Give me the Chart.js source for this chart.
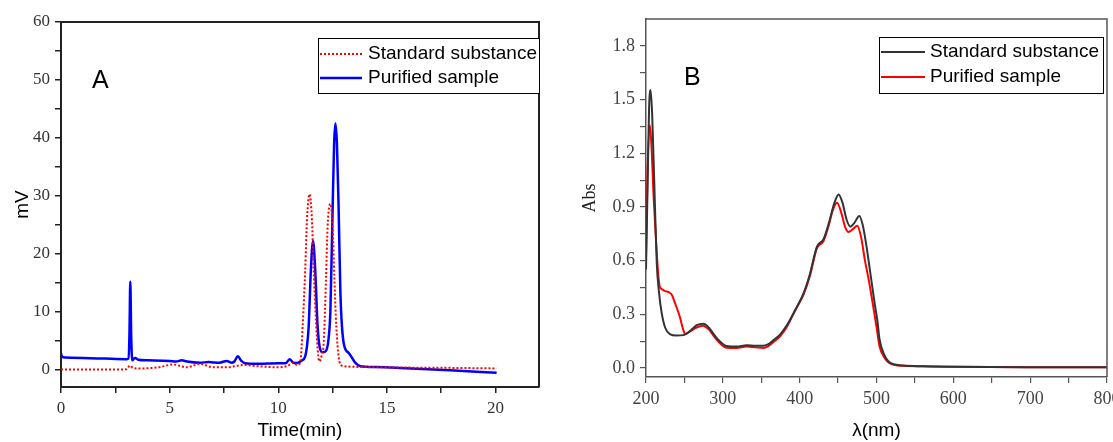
<!DOCTYPE html>
<html><head><meta charset="utf-8">
<script src="https://cdn.jsdelivr.net/npm/chart.js@4.4.1/dist/chart.umd.min.js"></script>
<style>
html,body{margin:0;padding:0;background:#fff;overflow:hidden}
#wrap{position:relative;width:1113px;height:442px;background:#fff}
canvas{position:absolute;top:0}
#cA{left:0}
#cB{left:556px}
</style></head><body>
<div id="wrap"><canvas id="cA" width="556" height="442"></canvas><canvas id="cB" width="557" height="442"></canvas></div>
<script>
// ---------- Panel A : HPLC chromatogram (mV vs min) ----------
const seriesNames = ['Standard substance', 'Purified sample'];

const hplcTimeStd = [0, 1, 2, 3.0, 3.18, 3.3, 3.6, 4.5, 5.18, 5.5, 5.8, 6.4, 7.0, 7.6, 8.4, 9.0, 10.0, 10.4, 10.7, 10.85,
  11.01, 11.13, 11.24, 11.32, 11.44, 11.55, 11.63, 11.74, 11.84, 11.9, 12.0, 12.09, 12.2, 12.27, 12.4, 12.5, 12.58, 12.67,
  12.83, 13.0, 14, 16, 18, 20.05];
const hplcStd = [0, 0, 0, 0.05, 0.7, 0.3, 0.2, 0.4, 0.9, 0.6, 0.4, 1.0, 0.4, 0.4, 0.8, 0.6, 0.4, 0.6, 1.2, 0.8,
  1.15, 8.1, 17.2, 25.8, 30.3, 25.8, 17.2, 8.1, 2.3, 1.4, 2.5, 4.6, 16, 24.7, 28.6, 24.7, 16, 7.5,
  1.15, 0.6, 0.45, 0.35, 0.3, 0.2];

const hplcTimePur = [0, 0.05, 0.2, 1, 2, 3.0, 3.1, 3.15, 3.19, 3.23, 3.28, 3.33, 3.42, 3.55, 4.0, 5.0, 5.3, 5.56, 5.8,
  6.4, 6.8, 7.0, 7.3, 7.63, 7.86, 7.98, 8.14, 8.3, 8.48, 9.0, 10.0, 10.35, 10.52, 10.7, 10.86, 11.05, 11.24, 11.32, 11.4,
  11.5, 11.6, 11.7, 11.81, 11.9, 12.04, 12.15, 12.24, 12.32, 12.4, 12.5, 12.57, 12.63, 12.7, 12.78, 12.86, 13.01, 13.24,
  13.55, 13.78, 14.5, 15.6, 17.9, 20.05];
const hplcPur = [2.8, 2.2, 2.1, 2.0, 1.9, 1.8, 1.9, 6, 15.2, 6, 1.6, 1.8, 2.0, 1.7, 1.6, 1.5, 1.4, 1.6, 1.4,
  1.2, 1.3, 1.25, 1.2, 1.5, 1.2, 1.4, 2.3, 1.5, 1.1, 1.0, 1.1, 1.1, 1.8, 1.2, 1.15, 1.5, 2.3, 4.0, 7.5,
  17.2, 22.2, 17.2, 7.5, 4.0, 3.0, 3.1, 3.6, 5.5, 10.3, 27.5, 39, 42.5, 39, 27.5, 13.2, 4.6, 2.9,
  1.15, 0.6, 0.45, 0.3, -0.1, -0.55];

const ticksAx = [0, 2.5, 5, 7.5, 10, 12.5, 15, 17.5, 20];
const labelsAx = ['0', '', '5', '', '10', '', '15', '', '20'];
const ticksAy = [0, 5, 10, 15, 20, 25, 30, 35, 40, 45, 50, 55, 60];
const labelsAy = ['0', '', '10', '', '20', '', '30', '', '40', '', '50', '', '60'];

// ---------- Panel B : UV-Vis spectrum (Abs vs nm) ----------
const uvWaveStd = [200, 202, 204, 206, 208, 211, 214, 217, 220.5, 225, 231, 240, 249, 258, 266, 275, 282, 288, 296, 305,
  318, 331, 342, 353, 360, 366, 375, 383.5, 395, 405, 413, 422.5, 431, 438, 445, 450.7, 456, 461, 466, 471, 477.7, 482,
  487, 492, 498, 501, 504, 510, 516, 524, 535, 560, 600, 700, 800];
const uvStd = [0.55, 1.0, 1.45, 1.553, 1.42, 1.0, 0.585, 0.42, 0.305, 0.225, 0.19, 0.182, 0.184, 0.21, 0.24, 0.248, 0.225,
  0.19, 0.15, 0.123, 0.12, 0.128, 0.124, 0.125, 0.135, 0.156, 0.19, 0.24, 0.33, 0.417, 0.52, 0.678, 0.72, 0.81, 0.92,
  0.97, 0.92, 0.83, 0.79, 0.81, 0.85, 0.8, 0.68, 0.53, 0.35, 0.27, 0.16, 0.075, 0.035, 0.02, 0.014, 0.01, 0.007, 0.005, 0.005];

const uvWavePur = [200, 202, 205, 207, 210, 213, 216, 218, 221, 224.8, 229, 233.5, 238, 244, 248, 251, 257, 265, 274, 282,
  288, 296, 305, 318, 331, 342, 353, 360, 366, 375, 384, 395, 405, 413, 422.5, 431, 438, 443, 448.6, 454, 459, 463.6, 469,
  475, 480, 485, 490, 497, 500, 504, 510, 516, 524, 535, 560, 600, 700, 800];
const uvPur = [0.62, 1.1, 1.357, 1.25, 0.95, 0.715, 0.52, 0.454, 0.44, 0.43, 0.425, 0.41, 0.36, 0.287, 0.22, 0.19, 0.203,
  0.225, 0.237, 0.215, 0.18, 0.14, 0.113, 0.112, 0.12, 0.116, 0.112, 0.125, 0.145, 0.18, 0.235, 0.33, 0.41, 0.51, 0.67,
  0.71, 0.8, 0.88, 0.923, 0.87, 0.79, 0.76, 0.775, 0.795, 0.73, 0.6, 0.49, 0.31, 0.23, 0.12, 0.06, 0.03, 0.017, 0.013,
  0.01, 0.007, 0.005, 0.005];

const ticksBx = [200, 250, 300, 350, 400, 450, 500, 550, 600, 650, 700, 750, 800];
const labelsBx = ['200', '', '300', '', '400', '', '500', '', '600', '', '700', '', '800'];
const ticksBy = [0, 0.15, 0.3, 0.45, 0.6, 0.75, 0.9, 1.05, 1.2, 1.35, 1.5, 1.65, 1.8];
const labelsBy = ['0.0', '', '0.3', '', '0.6', '', '0.9', '', '1.2', '', '1.5', '', '1.8'];

// ---------- helpers ----------
const pts = (xs, ys) => xs.map((x, i) => ({x: x, y: ys[i]}));

const framePlugin = {
  id: 'frame',
  afterDatasetsDraw(chart, args, o) {
    const {ctx, chartArea: a} = chart;
    ctx.save();
    ctx.strokeStyle = o.color; ctx.lineWidth = o.width;
    ctx.beginPath();
    ctx.moveTo(a.left, a.top); ctx.lineTo(a.right, a.top); ctx.lineTo(a.right, a.bottom);
    ctx.stroke();
    ctx.restore();
  }
};

const boxLegend = {
  id: 'boxLegend',
  afterDraw(chart, args, o) {
    const ctx = chart.ctx;
    ctx.save();
    ctx.fillStyle = '#fff';
    ctx.fillRect(o.x, o.y, o.w, o.h);
    ctx.strokeStyle = '#000'; ctx.lineWidth = 1;
    ctx.strokeRect(o.x + 0.5, o.y + 0.5, o.w, o.h);
    chart.data.datasets.forEach((ds, i) => {
      const y = o.y + o.rows[i];
      ctx.strokeStyle = ds.borderColor; ctx.lineWidth = ds.borderWidth;
      ctx.setLineDash(ds.borderDash || []);
      ctx.beginPath(); ctx.moveTo(o.x + o.l0, y); ctx.lineTo(o.x + o.l1, y); ctx.stroke();
      ctx.setLineDash([]);
      ctx.fillStyle = '#000'; ctx.font = o.font; ctx.textBaseline = 'middle'; ctx.textAlign = 'left';
      ctx.fillText(ds.label, o.x + o.tx, y);
    });
    if (o.letter) {
      ctx.font = o.letterFont; ctx.textBaseline = 'alphabetic'; ctx.fillStyle = '#000';
      ctx.fillText(o.letter, o.lx, o.ly);
    }
    ctx.restore();
  }
};

function fixScale(w, h) {
  return function (s) {
    if (w !== null) s.width = w;
    if (h !== null) s.height = h;
    s.paddingLeft = 0; s.paddingRight = 0; s.paddingTop = 0; s.paddingBottom = 0;
  };
}
function setTicks(vals) { return function (s) { s.ticks = vals.map(v => ({value: v})); }; }
function labelFrom(vals, labels) {
  return function (v) { const i = vals.findIndex(t => Math.abs(t - v) < 1e-6); return i >= 0 ? labels[i] : ''; };
}

const serif = '"Liberation Serif", "DejaVu Serif", serif';
const sans = '"Liberation Sans", Arial, sans-serif';

// ---------- Chart A ----------
new Chart(document.getElementById('cA'), {
  type: 'line',
  data: {
    datasets: [
      {label: seriesNames[0], data: pts(hplcTimeStd, hplcStd), borderColor: '#ff0000', borderWidth: 2,
        borderDash: [2, 2], pointRadius: 0, cubicInterpolationMode: 'monotone', fill: false},
      {label: seriesNames[1], data: pts(hplcTimePur, hplcPur), borderColor: '#0000ff', borderWidth: 2.5,
        pointRadius: 0, cubicInterpolationMode: 'monotone', fill: false}
    ]
  },
  options: {
    responsive: false, animation: false, devicePixelRatio: 1,
    layout: {padding: {left: 0, right: 17, top: 22, bottom: 0}},
    scales: {
      x: {
        type: 'linear', min: 0, max: 22,
        afterFit: fixScale(null, 55), afterBuildTicks: setTicks(ticksAx),
        grid: {drawOnChartArea: false, drawTicks: true, tickLength: 6, color: '#222', lineWidth: 1.5},
        border: {display: true, color: '#222', width: 2},
        ticks: {callback: labelFrom(ticksAx, labelsAx), color: '#333', padding: 5, maxRotation: 0, autoSkip: false,
          font: {family: serif, size: 17}},
        title: {display: true, text: 'Time(min)', color: '#000', padding: {top: 0, bottom: 0},
          font: {family: sans, size: 19}}
      },
      y: {
        type: 'linear', min: -3, max: 60,
        afterFit: fixScale(61, null), afterBuildTicks: setTicks(ticksAy),
        grid: {drawOnChartArea: false, drawTicks: true, tickLength: 6, color: '#222', lineWidth: 1.5},
        border: {display: true, color: '#222', width: 2},
        ticks: {callback: labelFrom(ticksAy, labelsAy), color: '#333', padding: 5, autoSkip: false,
          font: {family: serif, size: 17}},
        title: {display: true, text: 'mV', color: '#000', padding: {top: 11, bottom: 0},
          font: {family: sans, size: 19}}
      }
    },
    plugins: {
      legend: {display: false}, tooltip: {enabled: false},
      frame: {color: '#222', width: 2},
      boxLegend: {x: 318, y: 38, w: 221, h: 55, rows: [16, 40], l0: 2, l1: 44, tx: 50,
        font: '19px ' + sans, letter: 'A', letterFont: '25px ' + sans, lx: 92, ly: 88}
    }
  },
  plugins: [framePlugin, boxLegend]
});

// ---------- Chart B ----------
new Chart(document.getElementById('cB'), {
  type: 'line',
  data: {
    datasets: [
      {label: seriesNames[0], data: pts(uvWaveStd, uvStd), borderColor: '#333333', borderWidth: 2,
        pointRadius: 0, cubicInterpolationMode: 'monotone', fill: false},
      {label: seriesNames[1], data: pts(uvWavePur, uvPur), borderColor: '#ff0000', borderWidth: 2,
        pointRadius: 0, cubicInterpolationMode: 'monotone', fill: false}
    ]
  },
  options: {
    responsive: false, animation: false, devicePixelRatio: 1,
    layout: {padding: {left: 0, right: 6, top: 19, bottom: 0}},
    scales: {
      x: {
        type: 'linear', min: 200, max: 800,
        afterFit: fixScale(null, 65), afterBuildTicks: setTicks(ticksBx),
        grid: {drawOnChartArea: false, drawTicks: true, tickLength: 6, color: '#555', lineWidth: 1.2},
        border: {display: true, color: '#555', width: 1.5},
        ticks: {callback: labelFrom(ticksBx, labelsBx), color: '#444', padding: 5, maxRotation: 0, autoSkip: false,
          font: {family: serif, size: 18}},
        title: {display: true, text: 'λ(nm)', color: '#000', padding: {top: 0, bottom: 0},
          font: {family: sans, size: 19}}
      },
      y: {
        type: 'linear', min: -0.05, max: 1.95,
        afterFit: fixScale(90, null), afterBuildTicks: setTicks(ticksBy),
        grid: {drawOnChartArea: false, drawTicks: true, tickLength: 6, color: '#555', lineWidth: 1.2},
        border: {display: true, color: '#555', width: 1.5},
        ticks: {callback: labelFrom(ticksBy, labelsBy), color: '#444', padding: 5, autoSkip: false,
          font: {family: serif, size: 18}},
        title: {display: true, text: 'Abs', color: '#222', padding: {top: 23, bottom: 0},
          font: {family: serif, size: 18}}
      }
    },
    plugins: {
      legend: {display: false}, tooltip: {enabled: false},
      frame: {color: '#555', width: 1.5},
      boxLegend: {x: 323, y: 37, w: 224, h: 56, rows: [15, 40], l0: 2, l1: 46, tx: 51,
        font: '19px ' + sans, letter: 'B', letterFont: '25px ' + sans, lx: 128, ly: 85}
    }
  },
  plugins: [framePlugin, boxLegend]
});
</script>
</body></html>
